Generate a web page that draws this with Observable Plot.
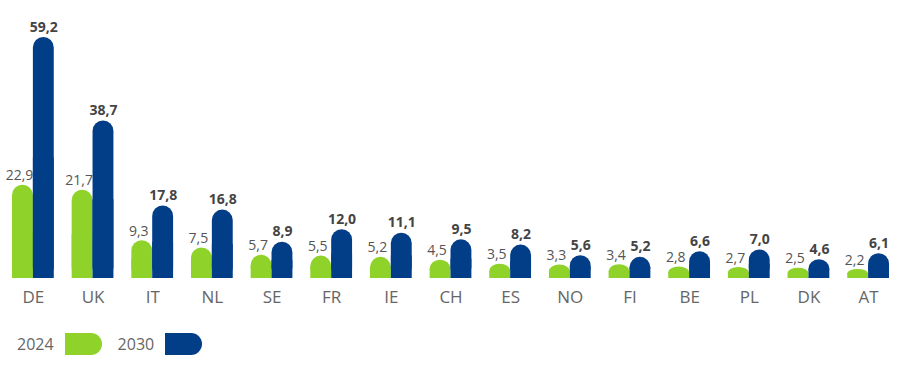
<!DOCTYPE html>
<html>
<head>
<meta charset="utf-8">
<script src="https://cdn.jsdelivr.net/npm/d3@7"></script>
<script src="https://cdn.jsdelivr.net/npm/@observablehq/plot@0.6"></script>
<style>
  html, body { margin: 0; padding: 0; background: #fff; }
  body { width: 900px; height: 385px; overflow: hidden; font-family: "Open Sans", sans-serif; }
  #legend { display: flex; align-items: center; height: 22px; margin-top: 18px; padding-left: 17px; color: #666; font-size: 16px; }
  #legend .item { display: flex; align-items: center; margin-right: 16px; }
  #legend svg { margin-left: 11px; display: block; }
</style>
</head>
<body>
<div id="chart"></div>
<div id="legend"></div>
<script>
const countries = ["DE","UK","IT","NL","SE","FR","IE","CH","ES","NO","FI","BE","PL","DK","AT"];
const years = ["2024","2030"];
const values2024 = [22.9,21.7,9.3,7.5,5.7,5.5,5.2,4.5,3.5,3.3,3.4,2.8,2.7,2.5,2.2];
const values2030 = [59.2,38.7,17.8,16.8,8.9,12.0,11.1,9.5,8.2,5.6,5.2,6.6,7.0,4.6,6.1];
const colors = ["#8fd32a", "#023d88"];

const rows = countries.flatMap((c, i) => [
  {country: c, year: years[0], value: values2024[i]},
  {country: c, year: years[1], value: values2030[i]}
]);
const fmt = v => v.toFixed(1).replace(".", ",");

// layout
const W = 900, mL = 12, mR = 11, padInner = 0.3;
const step = (W - mL - mR) / (countries.length - padInner);
const bw = step * (1 - padInner);
const half = bw / 2;
const r = half / 2;

const g = rows.filter(d => d.year === years[0]);
const b = rows.filter(d => d.year === years[1]);

const chart = Plot.plot({
  width: W,
  height: 315,
  marginLeft: mL,
  marginRight: mR,
  marginTop: 37,
  marginBottom: 37,
  style: {fontFamily: "Open Sans", fontSize: "17px", color: "#666", background: "#fff"},
  x: {domain: countries, paddingInner: padInner, paddingOuter: 0, round: false, label: null},
  y: {domain: [0, 59.2], axis: null},
  marks: [
    Plot.barY(g, {x: "country", y: "value", fill: colors[0], insetRight: half, rx: r, ry: r}),
    Plot.barY(g, {x: "country", y1: 0, y2: d => d.value / 2, fill: colors[0], insetRight: half}),
    Plot.barY(b, {x: "country", y: "value", fill: colors[1], insetLeft: half, rx: r, ry: r}),
    Plot.barY(b, {x: "country", y1: 0, y2: d => d.value / 2, fill: colors[1], insetLeft: half}),
    Plot.text(g, {x: "country", y: "value", text: d => fmt(d.value), lineAnchor: "bottom", dy: -5, dx: -half / 2 - 3.5, fill: "#555", fontSize: 14}),
    Plot.text(b, {x: "country", y: "value", text: d => fmt(d.value), lineAnchor: "bottom", dy: -6, dx: half / 2, fill: "#444", fontSize: 14, fontWeight: "bold"}),
    Plot.axisX({tickSize: 0, tickPadding: 12, label: null, fill: "#666", fontSize: 17})
  ]
});
document.getElementById("chart").appendChild(chart);

const legend = document.getElementById("legend");
years.forEach((y, i) => {
  const item = document.createElement("div");
  item.className = "item";
  item.innerHTML = `<span>${y}</span><svg width="37" height="22"><path d="M0,0H26A11,11 0 0 1 26,22H0Z" fill="${colors[i]}"/></svg>`;
  legend.appendChild(item);
});
</script>
</body>
</html>
